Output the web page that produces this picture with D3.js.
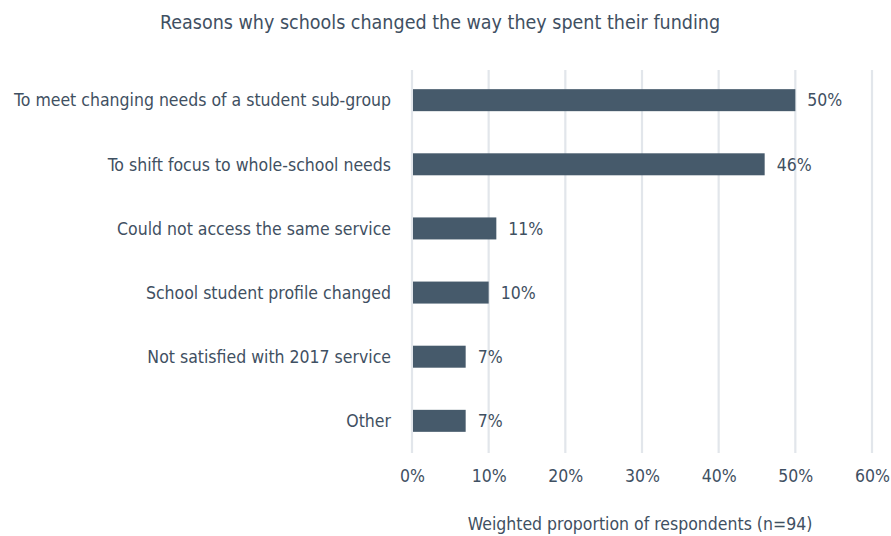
<!DOCTYPE html>
<html>
<head>
<meta charset="utf-8">
<script src="https://cdn.jsdelivr.net/npm/d3@7"></script>
<style>
  html, body { margin: 0; padding: 0; background: #fff; }
  svg { display: block; }
  text { font-family: "DejaVu Sans Condensed", "Liberation Sans Narrow", sans-serif; fill: #3f5062; }
</style>
</head>
<body>
<svg id="chart" width="891" height="536"></svg>
<script>
const categories = [
  "To meet changing needs of a student sub-group",
  "To shift focus to whole-school needs",
  "Could not access the same service",
  "School student profile changed",
  "Not satisfied with 2017 service",
  "Other"
];
const values = [50, 46, 11, 10, 7, 7];
const tickValues = [0, 10, 20, 30, 40, 50, 60];
const titleText = "Reasons why schools changed the way they spent their funding";
const axisTitle = "Weighted proportion of respondents (n=94)";

const svg = d3.select("#chart");
const barColor = "#465a6b";
const gridColor = "#e2e6eb";
const fontFamily = '"DejaVu Sans Condensed", "Liberation Sans Narrow", sans-serif';
const labelSize = 17.5;

const x = d3.scaleLinear().domain([0, 60]).range([412, 872]);
const y = d3.scaleBand().domain(categories).range([68, 453]).paddingInner(0.657).paddingOuter(0.33);

// vertical gridlines
svg.append("g").selectAll("line").data(tickValues).join("line")
  .attr("x1", d => x(d)).attr("x2", d => x(d))
  .attr("y1", 70).attr("y2", 453)
  .attr("stroke", gridColor).attr("stroke-width", 2.2);

// bars
svg.append("g").selectAll("rect").data(values).join("rect")
  .attr("x", x(0) + 1)
  .attr("y", (d, i) => y(categories[i]))
  .attr("width", d => x(d) - x(0) - 1)
  .attr("height", y.bandwidth())
  .attr("fill", barColor);

// value labels
svg.append("g").selectAll("text").data(values).join("text")
  .attr("x", d => x(d) + 12)
  .attr("y", (d, i) => y(categories[i]) + y.bandwidth() / 2)
  .attr("dy", "0.36em")
  .attr("font-size", labelSize)
  .text(d => d + "%");

// category labels
svg.append("g").selectAll("text").data(categories).join("text")
  .attr("x", 391)
  .attr("y", d => y(d) + y.bandwidth() / 2)
  .attr("dy", "0.36em")
  .attr("text-anchor", "end")
  .attr("font-size", labelSize)
  .text(d => d);

// x axis tick labels
const xAxis = d3.axisBottom(x).tickValues(tickValues).tickFormat(d => d + "%").tickSize(0).tickPadding(0);
const gx = svg.append("g").attr("transform", "translate(0,470)").call(xAxis);
gx.select(".domain").remove();
gx.selectAll("text").attr("font-size", labelSize).attr("fill", "#3f5062")
  .style("font-family", fontFamily);

// axis title
svg.append("text")
  .attr("x", 640).attr("y", 524).attr("dy", "0.36em")
  .attr("text-anchor", "middle").attr("font-size", labelSize)
  .text(axisTitle);

// chart title
svg.append("text")
  .attr("x", 440).attr("y", 22).attr("dy", "0.36em")
  .attr("text-anchor", "middle").attr("font-size", 19.5)
  .text(titleText);
</script>
</body>
</html>
